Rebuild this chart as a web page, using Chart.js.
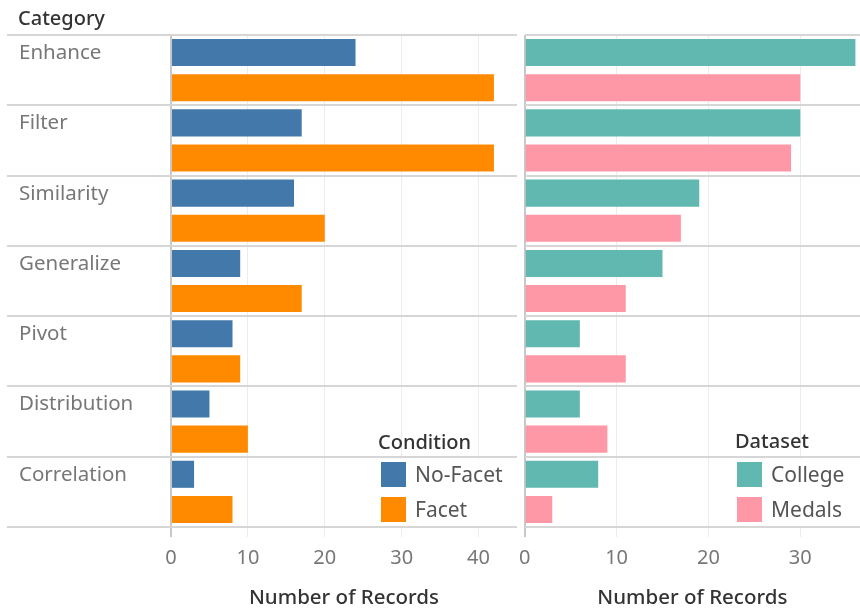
<!DOCTYPE html>
<html>
<head>
<meta charset="utf-8">
<script src="https://cdn.jsdelivr.net/npm/chart.js@4.4.0/dist/chart.umd.min.js"></script>
<style>
  body { margin: 0; background: #fff; font-family: "Noto Sans", sans-serif; }
  #wrap { position: relative; width: 860px; height: 608px; overflow: hidden; }
  #leftChart { position: absolute; left: 0; top: 0; }
  #rightChart { position: absolute; left: 510px; top: 0; }
  .hdr { position: absolute; left: 18px; top: 4px; font-size: 20px; font-weight: 500; color: #333; }
  .legTitle { position: absolute; font-size: 20px; font-weight: 500; color: #333; }
  .legBox { position: absolute; background: #fff; }
  .legItem { position: absolute; left: 0; height: 25px; line-height: 25px; font-size: 21px; color: #555; white-space: nowrap; }
  .legItem span { display: inline-block; width: 25px; height: 25px; vertical-align: top; margin-right: 9px; }
</style>
</head>
<body>
<div id="wrap">
  <canvas id="rightChart" width="350" height="608"></canvas>
  <canvas id="leftChart" width="520" height="608"></canvas>
  <div class="hdr">Category</div>
  <div class="legTitle" style="left:378px;top:428px;">Condition</div>
  <div class="legBox" id="legLeft" style="left:372px;top:459px;width:144px;height:67px;"></div>
  <div class="legTitle" style="left:735px;top:427px;">Dataset</div>
  <div class="legBox" id="legRight" style="left:728px;top:459px;width:130px;height:67px;"></div>
</div>
<script>
// data
const categories = ['Enhance', 'Filter', 'Similarity', 'Generalize', 'Pivot', 'Distribution', 'Correlation'];
const noFacet = [24, 17, 16, 9, 8, 5, 3];
const facet = [42, 42, 20, 17, 9, 10, 8];
const college = [36, 30, 19, 15, 6, 6, 8];
const medals = [30, 29, 17, 11, 11, 9, 3];

const conditionNames = ['No-Facet', 'Facet'];
const datasetNames = ['College', 'Medals'];
const colors = { 'No-Facet': '#4378aa', 'Facet': '#ff8a00', 'College': '#61b8b1', 'Medals': '#ff98a6' };

const FONT = '"Noto Sans", sans-serif';

function xScale(max) {
  return {
    type: 'linear',
    min: 0,
    max: max,
    ticks: {
      stepSize: 10,
      includeBounds: false,
      color: '#777',
      padding: 9,
      font: { family: FONT, size: 20 }
    },
    grid: {
      color: c => (c.tick && c.tick.value === 0) ? '#c8c8c8' : '#ececec',
      lineWidth: c => (c.tick && c.tick.value === 0) ? 2 : 1,
      tickLength: 10
    },
    border: { display: false },
    title: {
      display: true,
      text: 'Number of Records',
      color: '#333',
      padding: { top: 4, bottom: 0 },
      font: { family: FONT, size: 20.5, weight: '500', lineHeight: 1.0 }
    },
    afterFit: s => { s.height = 81; }
  };
}

function makeChart(id, names, series, max, showLabels) {
  const ctx = document.getElementById(id).getContext('2d');
  return new Chart(ctx, {
    type: 'bar',
    data: {
      labels: categories,
      datasets: names.map((n, i) => ({
        label: n,
        data: series[i],
        backgroundColor: colors[n],
        categoryPercentage: 1.0,
        barPercentage: 0.77
      }))
    },
    options: {
      indexAxis: 'y',
      responsive: false,
      animation: false,
      layout: { padding: { top: 35, bottom: 0, left: showLabels ? 19 : 5, right: showLabels ? 3 : 0 } },
      scales: {
        x: xScale(max),
        y: {
          type: 'category',
          display: showLabels,
          ticks: {
            crossAlign: 'far',
            labelOffset: -17,
            color: '#777',
            font: { family: FONT, size: 20.5 }
          },
          grid: {
            color: '#d6d6d6',
            lineWidth: 2,
            tickLength: 164
          },
          border: { display: false },
          afterFit: s => { s.width = showLabels ? 152 : 0; }
        },
        yRows: {
          // row dividers for the right pane, which has no labels
          type: 'category',
          axis: 'y',
          labels: categories,
          display: !showLabels,
          ticks: { display: false },
          grid: { color: '#d6d6d6', lineWidth: 2, drawTicks: false, offset: true },
          border: { display: false },
          afterFit: s => { s.width = 0; }
        }
      },
      plugins: {
        legend: { display: false },
        tooltip: { enabled: false }
      }
    }
  });
}

makeChart('leftChart', conditionNames, [noFacet, facet], 45, true);
makeChart('rightChart', datasetNames, [college, medals], 36.5, false);

// html legends
function buildLegend(id, names) {
  const box = document.getElementById(id);
  names.forEach((n, i) => {
    const d = document.createElement('div');
    d.className = 'legItem';
    d.style.top = (3 + i * 35) + 'px';
    d.style.left = '9px';
    d.innerHTML = '<span style="background:' + colors[n] + '"></span>' + n;
    box.appendChild(d);
  });
}
buildLegend('legLeft', conditionNames);
buildLegend('legRight', datasetNames);
</script>
</body>
</html>
